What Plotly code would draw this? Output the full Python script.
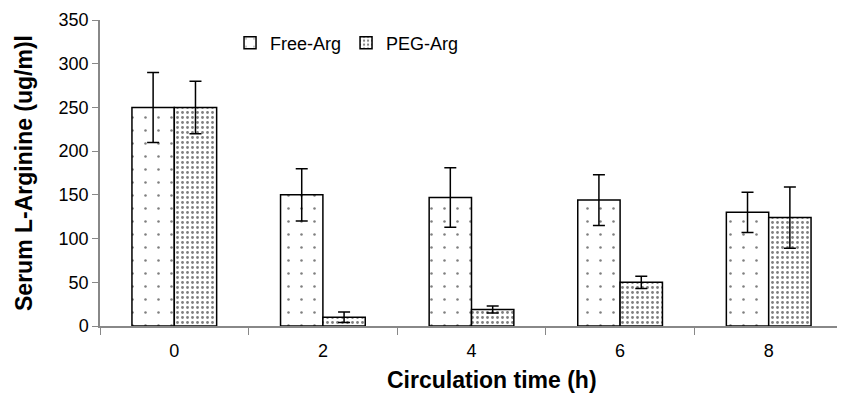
import plotly.graph_objects as go

categories = ["0", "2", "4", "6", "8"]
free_arg = [250, 150, 147, 144, 130]
free_err = [40, 30, 34, 29, 23]
peg_arg = [250, 10, 19, 50, 124]
peg_err = [30, 6, 4, 7, 35]

font_family = "Liberation Sans, Arial, sans-serif"

fig = go.Figure()
fig.add_trace(go.Bar(
    name="Free-Arg", x=categories, y=free_arg,
    error_y=dict(type="data", array=free_err, color="black", thickness=1.5, width=6),
    marker=dict(color="white", line=dict(color="black", width=1.5),
                pattern=dict(shape=".", size=13, solidity=0.03, fgcolor="black", bgcolor="white", fillmode="overlay")),
))
fig.add_trace(go.Bar(
    name="PEG-Arg", x=categories, y=peg_arg,
    error_y=dict(type="data", array=peg_err, color="black", thickness=1.5, width=6),
    marker=dict(color="white", line=dict(color="black", width=1.5),
                pattern=dict(shape=".", size=5, solidity=0.25, fgcolor="black", bgcolor="white", fillmode="overlay")),
))

fig.update_layout(
    width=837, height=385,
    margin=dict(l=92, r=2, t=10, b=67),
    paper_bgcolor="white", plot_bgcolor="white",
    barmode="group", bargap=0.43, bargroupgap=0,
    font=dict(family=font_family, size=18, color="black"),
    showlegend=True,
    legend=dict(orientation="h", x=0.175, y=0.925, xanchor="left", yanchor="middle",
                font=dict(size=18), bgcolor="rgba(0,0,0,0)", itemwidth=30),
    xaxis=dict(
        type="category", tickson="boundaries", ticks="outside", ticklen=7,
        tickcolor="#888", showline=True, linecolor="#888", linewidth=1.5,
        showgrid=False, tickfont=dict(size=18), ticklabelstandoff=8,
    ),
    yaxis=dict(
        range=[0, 350], tickvals=[0, 50, 100, 150, 200, 250, 300, 350],
        ticks="outside", ticklen=6, tickcolor="#888", tickfont=dict(size=18),
        showline=True, linecolor="#888", linewidth=1.5, showgrid=False, zeroline=False,
        title=dict(text="<b>Serum L-Arginine (ug/m)l</b>", font=dict(size=23), standoff=20),
    ),
    annotations=[dict(
        text="<b>Circulation time (h)</b>", xref="paper", yref="paper",
        x=0.528, y=-0.178, xanchor="center", yanchor="middle", showarrow=False,
        font=dict(size=23),
    )],
)

fig.write_html("out.html")
